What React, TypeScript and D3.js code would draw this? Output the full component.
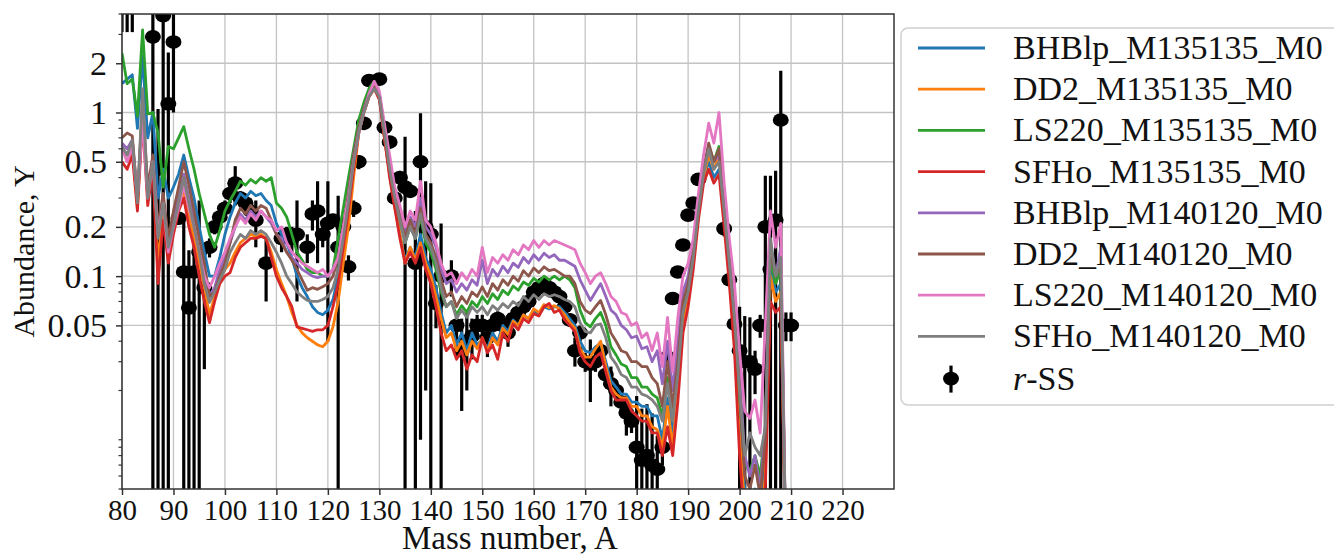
import React, { useEffect, useRef } from "react";
import * as d3 from "d3";

// mass numbers start at A = 80, one value per A
const massStart = 80;

const bhblp135 = [
  1.5, 1.6, 1.7, 0.8, 2.2, 0.7, 1.0, 0.3, 0.45, 0.3,
  0.35, 0.42, 0.55, 0.4, 0.3, 0.2, 0.14, 0.1, 0.1, 0.13,
  0.18, 0.23, 0.28, 0.32, 0.3, 0.33, 0.31, 0.32, 0.29, 0.27,
  0.21, 0.18, 0.16, 0.13, 0.1, 0.085, 0.075, 0.065, 0.06, 0.058,
  0.062, 0.072, 0.1, 0.18, 0.3, 0.5, 0.8, 1.05, 1.3, 1.45,
  1.25, 0.7, 0.42, 0.27, 0.18, 0.125, 0.15, 0.13, 0.18, 0.13,
  0.11, 0.085, 0.06, 0.045, 0.05, 0.038, 0.045, 0.035, 0.045, 0.038,
  0.041, 0.036, 0.045, 0.04, 0.05, 0.046, 0.054, 0.05, 0.058, 0.055,
  0.062, 0.058, 0.065, 0.063, 0.065, 0.065, 0.06, 0.055, 0.05, 0.04,
  0.035, 0.034, 0.037, 0.039, 0.03, 0.023, 0.021, 0.019, 0.019, 0.017,
  0.017, 0.016, 0.016, 0.014, 0.014, 0.01, 0.018, 0.011, 0.022, 0.055,
  0.075, 0.12, 0.24, 0.4, 0.5, 0.4, 0.45, 0.24, 0.11, 0.05,
  0.015, 0.005, 0.004, 0.005, 0.004, 0.008, 0.12, 0.08, 0.09, 0.002,
];
const dd2135 = [
  0.6, 0.55, 0.62, 0.26, 1.1, 0.3, 0.48, 0.12, 0.25, 0.13,
  0.19, 0.26, 0.34, 0.24, 0.17, 0.12, 0.085, 0.058, 0.075, 0.095,
  0.11, 0.12, 0.14, 0.16, 0.17, 0.18, 0.175, 0.18, 0.17, 0.14,
  0.11, 0.09, 0.075, 0.06, 0.05, 0.045, 0.042, 0.04, 0.038, 0.037,
  0.04, 0.049, 0.07, 0.12, 0.2, 0.4, 0.75, 1.0, 1.25, 1.4,
  1.25, 0.7, 0.42, 0.27, 0.18, 0.12, 0.15, 0.125, 0.16, 0.12,
  0.1, 0.075, 0.055, 0.042, 0.045, 0.035, 0.04, 0.033, 0.04, 0.036,
  0.042, 0.035, 0.042, 0.038, 0.048, 0.044, 0.053, 0.05, 0.058, 0.055,
  0.063, 0.06, 0.067, 0.064, 0.066, 0.063, 0.058, 0.052, 0.048, 0.036,
  0.032, 0.032, 0.036, 0.04, 0.028, 0.021, 0.019, 0.018, 0.018, 0.016,
  0.016, 0.014, 0.014, 0.012, 0.0115, 0.009, 0.016, 0.009, 0.02, 0.05,
  0.07, 0.12, 0.24, 0.4, 0.55, 0.45, 0.55, 0.24, 0.1, 0.04,
  0.01, 0.004, 0.003, 0.004, 0.003, 0.006, 0.1, 0.07, 0.08, 0.002,
];
const ls220135 = [
  2.3, 1.5, 1.6, 0.95, 3.2, 0.98, 1.0, 0.75, 0.35, 0.62,
  0.6, 0.7, 0.82, 0.6, 0.45, 0.32, 0.24, 0.18, 0.15, 0.19,
  0.25, 0.29, 0.33, 0.38, 0.36, 0.39, 0.37, 0.4, 0.38, 0.4,
  0.28, 0.26, 0.23, 0.18, 0.14, 0.125, 0.11, 0.105, 0.105, 0.1,
  0.1, 0.11, 0.17, 0.26, 0.4, 0.6, 0.9, 1.15, 1.4, 1.55,
  1.3, 0.75, 0.45, 0.3, 0.22, 0.16, 0.2, 0.17, 0.23, 0.16,
  0.14, 0.11, 0.08, 0.065, 0.07, 0.058, 0.066, 0.06, 0.07, 0.065,
  0.075, 0.068, 0.078, 0.072, 0.082, 0.077, 0.087, 0.082, 0.092, 0.088,
  0.097, 0.092, 0.1, 0.095, 0.1, 0.095, 0.1, 0.095, 0.085, 0.062,
  0.052, 0.049, 0.055, 0.06, 0.05, 0.037, 0.033, 0.029, 0.028, 0.024,
  0.024, 0.021, 0.021, 0.019, 0.018, 0.014, 0.024, 0.014, 0.028, 0.065,
  0.085, 0.14, 0.27, 0.45, 0.62, 0.5, 0.62, 0.28, 0.12, 0.055,
  0.018, 0.007, 0.0065, 0.008, 0.006, 0.012, 0.13, 0.09, 0.11, 0.002,
];
const sfho135 = [
  0.5, 0.45, 0.55, 0.25, 0.9, 0.27, 0.45, 0.09, 0.22, 0.12,
  0.18, 0.25, 0.3, 0.2, 0.15, 0.1, 0.07, 0.052, 0.07, 0.09,
  0.1, 0.105, 0.13, 0.15, 0.16, 0.17, 0.17, 0.175, 0.17, 0.13,
  0.1, 0.085, 0.075, 0.065, 0.049, 0.048, 0.047, 0.046, 0.047, 0.047,
  0.05, 0.065, 0.09, 0.15, 0.25, 0.45, 0.75, 1.0, 1.25, 1.4,
  1.2, 0.7, 0.4, 0.26, 0.17, 0.12, 0.14, 0.12, 0.15, 0.11,
  0.09, 0.065, 0.045, 0.035, 0.038, 0.031, 0.035, 0.027, 0.033, 0.03,
  0.042, 0.034, 0.038, 0.031, 0.045, 0.04, 0.051, 0.047, 0.055, 0.052,
  0.059, 0.057, 0.065, 0.068, 0.06, 0.062, 0.054, 0.05, 0.046, 0.034,
  0.03, 0.028, 0.032, 0.034, 0.026, 0.02, 0.0175, 0.0175, 0.0175, 0.015,
  0.014, 0.013, 0.013, 0.011, 0.011, 0.008, 0.012, 0.008, 0.017, 0.045,
  0.065, 0.11, 0.22, 0.37, 0.45, 0.37, 0.42, 0.2, 0.09, 0.035,
  0.008, 0.003, 0.0025, 0.003, 0.0025, 0.005, 0.07, 0.06, 0.065, 0.002,
];
const bhblp140 = [
  0.65, 0.6, 0.68, 0.3, 1.0, 0.32, 0.52, 0.19, 0.3, 0.15,
  0.22, 0.3, 0.42, 0.3, 0.22, 0.15, 0.11, 0.075, 0.085, 0.11,
  0.13, 0.16, 0.2, 0.24, 0.22, 0.25, 0.23, 0.25, 0.23, 0.21,
  0.18, 0.17, 0.14, 0.13, 0.12, 0.11, 0.105, 0.1, 0.098, 0.1,
  0.1, 0.11, 0.13, 0.2, 0.32, 0.55, 0.8, 1.05, 1.3, 1.5,
  1.3, 0.8, 0.5, 0.33, 0.25, 0.18, 0.23, 0.2, 0.3, 0.2,
  0.18, 0.15, 0.11, 0.09, 0.095, 0.08, 0.09, 0.082, 0.095, 0.088,
  0.125, 0.09, 0.11, 0.1, 0.115, 0.105, 0.12, 0.113, 0.13, 0.12,
  0.135, 0.125, 0.138, 0.13, 0.135, 0.125, 0.125, 0.12, 0.115, 0.095,
  0.082, 0.071, 0.08, 0.09, 0.075, 0.062, 0.058, 0.05, 0.047, 0.042,
  0.043, 0.036, 0.037, 0.03, 0.035, 0.022, 0.04, 0.02, 0.04, 0.08,
  0.1, 0.15, 0.28, 0.45, 0.6, 0.5, 0.55, 0.3, 0.14, 0.07,
  0.025, 0.008, 0.006, 0.008, 0.005, 0.012, 0.16, 0.1, 0.15, 0.002,
];
const dd2140 = [
  0.7, 0.75, 0.72, 0.3, 1.2, 0.35, 0.55, 0.2, 0.32, 0.17,
  0.25, 0.35, 0.5, 0.36, 0.25, 0.17, 0.12, 0.075, 0.08, 0.1,
  0.12, 0.16, 0.22, 0.26, 0.24, 0.27, 0.25, 0.27, 0.26, 0.22,
  0.18, 0.16, 0.14, 0.125, 0.11, 0.095, 0.082, 0.085, 0.083, 0.086,
  0.09, 0.1, 0.13, 0.2, 0.32, 0.55, 0.8, 1.05, 1.3, 1.45,
  1.3, 0.8, 0.5, 0.33, 0.24, 0.17, 0.22, 0.18, 0.26, 0.18,
  0.16, 0.13, 0.095, 0.075, 0.08, 0.065, 0.075, 0.068, 0.08, 0.075,
  0.086, 0.075, 0.09, 0.082, 0.095, 0.088, 0.1, 0.093, 0.108, 0.1,
  0.112, 0.105, 0.114, 0.108, 0.11, 0.105, 0.1, 0.1, 0.09, 0.07,
  0.062, 0.059, 0.065, 0.071, 0.058, 0.045, 0.04, 0.035, 0.034, 0.03,
  0.03, 0.028, 0.028, 0.024, 0.022, 0.016, 0.03, 0.016, 0.03, 0.07,
  0.09, 0.14, 0.27, 0.45, 0.65, 0.5, 0.6, 0.28, 0.13, 0.06,
  0.02, 0.006, 0.005, 0.007, 0.0045, 0.01, 0.15, 0.1, 0.12, 0.002,
];
const ls220140 = [
  0.6, 0.5, 0.62, 0.3, 0.9, 0.3, 0.5, 0.18, 0.28, 0.14,
  0.2, 0.26, 0.36, 0.26, 0.2, 0.14, 0.1, 0.085, 0.1, 0.12,
  0.14, 0.17, 0.2, 0.23, 0.21, 0.24, 0.22, 0.25, 0.23, 0.22,
  0.19, 0.2, 0.16, 0.14, 0.13, 0.12, 0.115, 0.11, 0.105, 0.11,
  0.1, 0.11, 0.13, 0.2, 0.3, 0.5, 0.75, 1.0, 1.3, 1.55,
  1.35, 0.85, 0.55, 0.35, 0.27, 0.2, 0.25, 0.22, 0.38, 0.22,
  0.2, 0.16, 0.12, 0.1, 0.105, 0.09, 0.105, 0.095, 0.11, 0.1,
  0.15, 0.105, 0.13, 0.12, 0.135, 0.125, 0.145, 0.135, 0.155, 0.145,
  0.165, 0.15, 0.165, 0.155, 0.165, 0.16, 0.155, 0.15, 0.145, 0.12,
  0.105, 0.09, 0.1, 0.105, 0.09, 0.075, 0.07, 0.06, 0.058, 0.05,
  0.052, 0.042, 0.045, 0.035, 0.045, 0.028, 0.056, 0.026, 0.056, 0.1,
  0.12, 0.17, 0.32, 0.55, 0.86, 0.65, 1.0, 0.37, 0.17, 0.09,
  0.035, 0.015, 0.0135, 0.0175, 0.011, 0.05, 0.25, 0.15, 0.21, 0.002,
];
const sfho140 = [
  0.62, 0.55, 0.68, 0.28, 1.4, 0.3, 0.5, 0.17, 0.28, 0.15,
  0.2, 0.28, 0.4, 0.28, 0.2, 0.14, 0.09, 0.069, 0.08, 0.095,
  0.11, 0.14, 0.16, 0.18, 0.17, 0.19, 0.18, 0.19, 0.18, 0.16,
  0.14, 0.12, 0.1, 0.09, 0.08, 0.075, 0.071, 0.07, 0.07, 0.072,
  0.075, 0.085, 0.11, 0.17, 0.28, 0.5, 0.75, 1.0, 1.25, 1.4,
  1.25, 0.75, 0.45, 0.3, 0.22, 0.16, 0.2, 0.17, 0.24, 0.17,
  0.15, 0.12, 0.085, 0.065, 0.07, 0.055, 0.062, 0.056, 0.065, 0.06,
  0.065, 0.058, 0.066, 0.062, 0.068, 0.064, 0.07, 0.066, 0.075, 0.07,
  0.077, 0.072, 0.078, 0.075, 0.077, 0.075, 0.072, 0.07, 0.065, 0.052,
  0.046, 0.045, 0.05, 0.051, 0.042, 0.032, 0.029, 0.025, 0.024, 0.021,
  0.021, 0.019, 0.0185, 0.0175, 0.016, 0.013, 0.022, 0.013, 0.025, 0.06,
  0.08, 0.13, 0.25, 0.42, 0.6, 0.45, 0.5, 0.25, 0.12, 0.055,
  0.02, 0.008, 0.011, 0.009, 0.008, 0.012, 0.17, 0.1, 0.13, 0.002,
];

const seriesNames = [
  "BHBlp_M135135_M0",
  "DD2_M135135_M0",
  "LS220_M135135_M0",
  "SFHo_M135135_M0",
  "BHBlp_M140120_M0",
  "DD2_M140120_M0",
  "LS220_M140120_M0",
  "SFHo_M140120_M0",
];
const seriesValues = [bhblp135, dd2135, ls220135, sfho135, bhblp140, dd2140, ls220140, sfho140];
const seriesColors = ["#1f77b4", "#ff7f0e", "#2ca02c", "#d62728", "#9467bd", "#8c564b", "#e377c2", "#7f7f7f"];

// solar r-process residuals
const rssA = [
  80, 81, 82, 86, 87, 88, 89, 90, 91, 92, 93, 94, 95, 96, 97, 98, 99,
  100, 101, 102, 103, 104, 105, 106, 108, 111, 112, 113, 114, 116, 117, 118, 119,
  120, 121, 122, 123, 124, 125, 126, 127, 128, 130, 131, 132, 133, 134, 135, 136,
  137, 138, 139, 140, 141, 142, 144, 145, 146, 147, 148, 149, 150, 151, 152, 153,
  154, 155, 156, 157, 158, 159, 160, 161, 162, 163, 164, 165, 166, 167, 168, 169,
  170, 171, 172, 173, 174, 175, 176, 177, 178, 179, 180, 181, 182, 183, 184, 185,
  186, 187, 188, 189, 190, 191, 192, 197, 198, 199, 200, 201, 202, 203, 204, 205,
  206, 207, 208, 209, 210,
];
const rssY = [
  6.0, 5.4, 5.0, 2.9, 0.45, 3.9, 1.13, 2.7, 0.226, 0.106, 0.064, 0.106, 0.14, 0.085, 0.15, 0.2, 0.23,
  0.26, 0.32, 0.37, 0.3, 0.28, 0.25, 0.22, 0.12, 0.17, 0.18, 0.17, 0.18, 0.15, 0.24, 0.25, 0.18,
  0.21, 0.22, 0.15, 0.2, 0.114, 0.26, 0.5, 0.86, 1.57, 1.6, 0.81, 0.66, 0.3, 0.4, 0.35, 0.33,
  0.12, 0.5, 0.2, 0.18, 0.068, 0.1, 0.1, 0.05, 0.035, 0.04, 0.043, 0.05, 0.05, 0.042, 0.05, 0.055,
  0.05, 0.045, 0.055, 0.06, 0.065, 0.07, 0.08, 0.085, 0.09, 0.085, 0.08, 0.075, 0.065, 0.054, 0.035, 0.045,
  0.03, 0.029, 0.03, 0.035, 0.025, 0.022, 0.02, 0.017, 0.0146, 0.013, 0.009, 0.0075, 0.008, 0.007, 0.0066, 0.009,
  0.032, 0.073, 0.106, 0.155, 0.236, 0.28, 0.39, 0.195, 0.095, 0.051, 0.035, 0.03, 0.03, 0.027, 0.05, 0.2,
  0.11, 0.22, 0.9, 0.05, 0.05,
];
const rssErr = [
  2.9, 2.3, 1.9, 3.0, 0.6, 4.0, 1.2, 1.7, 0.02, 0.11, 0.08, 0.11, 0.15, 0.058, 0.02, 0.02, 0.03,
  0.03, 0.04, 0.1, 0.03, 0.03, 0.03, 0.07, 0.05, 0.03, 0.02, 0.03, 0.11, 0.03, 0.05, 0.13, 0.03,
  0.17, 0.02, 0.16, 0.03, 0.02, 0.03, 0.05, 0.08, 0.1, 0.1, 0.08, 0.06, 0.03, 0.04, 0.36, 0.03,
  0.13, 0.49, 0.18, 0.19, 0.02, 0.11, 0.025, 0.01, 0.02, 0.02, 0.012, 0.008, 0.008, 0.01, 0.006, 0.006,
  0.006, 0.008, 0.005, 0.005, 0.006, 0.006, 0.006, 0.007, 0.007, 0.007, 0.006, 0.006, 0.006, 0.005, 0.007, 0.005,
  0.004, 0.012, 0.004, 0.004, 0.004, 0.006, 0.003, 0.003, 0.004, 0.002, 0.0095, 0.008, 0.0085, 0.0075, 0.004, 0.002,
  0.004, 0.006, 0.008, 0.01, 0.015, 0.02, 0.03, 0.02, 0.008, 0.01, 0.03, 0.027, 0.026, 0.008, 0.008, 0.21,
  0.3, 0.22, 0.9, 0.01, 0.01,
];

const xTicks = [80, 90, 100, 110, 120, 130, 140, 150, 160, 170, 180, 190, 200, 210, 220];
const yTicks = [0.05, 0.1, 0.2, 0.5, 1, 2];
const yTickLabels = ["0.05", "0.1", "0.2", "0.5", "1", "2"];

const App = () => {
  const svgRef = useRef<SVGSVGElement>(null);

  useEffect(() => {
    const svg = d3.select(svgRef.current);
    svg.selectAll("*").remove();

    const left = 122, right = 894, top = 14, bottom = 489;
    const font = "'Liberation Serif', 'Times New Roman', serif";

    const xScale = d3.scaleLinear().domain([80, 230]).range([left, right]);
    const yScale = d3.scaleLog().domain([0.005, 4]).range([bottom, top]);

    svg.append("defs").append("clipPath").attr("id", "plotclip")
      .append("rect").attr("x", left).attr("y", top)
      .attr("width", right - left).attr("height", bottom - top);

    // grid
    const grid = svg.append("g").attr("stroke", "#c4c4c4").attr("stroke-width", 1.3);
    grid.selectAll(".vg").data(xTicks).join("line")
      .attr("x1", (d) => xScale(d)).attr("x2", (d) => xScale(d))
      .attr("y1", top).attr("y2", bottom);
    grid.selectAll(".hg").data(yTicks).join("line")
      .attr("x1", left).attr("x2", right)
      .attr("y1", (d) => yScale(d)).attr("y2", (d) => yScale(d));

    const plot = svg.append("g").attr("clip-path", "url(#plotclip)");

    // r-SS error bars and points
    const rss = rssA.map((a, i) => ({ a, y: rssY[i], e: rssErr[i] }));
    plot.selectAll(".eb").data(rss).join("line")
      .attr("x1", (d) => xScale(d.a)).attr("x2", (d) => xScale(d.a))
      .attr("y1", (d) => (d.y - d.e > 0 ? yScale(d.y - d.e) : bottom + 20))
      .attr("y2", (d) => yScale(d.y + d.e))
      .attr("stroke", "#000").attr("stroke-width", 3.2);
    plot.selectAll(".pt").data(rss).join("ellipse")
      .attr("cx", (d) => xScale(d.a)).attr("cy", (d) => yScale(d.y))
      .attr("rx", 8).attr("ry", 6.8).attr("fill", "#000");

    // model lines
    const line = d3.line<number>()
      .x((_, i) => xScale(massStart + i))
      .y((v) => yScale(v));
    seriesValues.forEach((vals, k) => {
      plot.append("path").datum(vals)
        .attr("d", line)
        .attr("fill", "none")
        .attr("stroke", seriesColors[k])
        .attr("stroke-width", 2.8)
        .attr("stroke-linejoin", "round");
    });

    // frame
    svg.append("rect").attr("x", left).attr("y", top)
      .attr("width", right - left).attr("height", bottom - top)
      .attr("fill", "none").attr("stroke", "#333").attr("stroke-width", 1.5);

    // axes
    const xAxis = d3.axisBottom(xScale).tickValues(xTicks).tickSize(6).tickPadding(4).tickSizeOuter(0)
      .tickFormat((d) => String(d));
    const gx = svg.append("g").attr("transform", `translate(0,${bottom})`).call(xAxis)
      .attr("font-family", font).attr("font-size", 29);
    gx.select(".domain").remove();
    gx.selectAll("line").attr("stroke", "#333").attr("stroke-width", 1.5);
    gx.selectAll("text").attr("fill", "#111");

    const yAxis = d3.axisLeft(yScale).tickValues(yTicks).tickSize(6).tickPadding(9).tickSizeOuter(0)
      .tickFormat((d, i) => yTickLabels[i]);
    const gy = svg.append("g").attr("transform", `translate(${left},0)`).call(yAxis)
      .attr("font-family", font).attr("font-size", 34);
    gy.select(".domain").remove();
    gy.selectAll("line").attr("stroke", "#333").attr("stroke-width", 1.5);
    gy.selectAll("text").attr("fill", "#111");

    // minor log ticks
    const minor: number[] = [];
    [-3, -2, -1, 0].forEach((e) => {
      for (let k = 1; k <= 9; k++) {
        const v = k * Math.pow(10, e);
        if (v >= 0.005 && v <= 4 && !yTicks.some((t) => Math.abs(t - v) < 1e-9)) minor.push(v);
      }
    });
    svg.append("g").selectAll("line").data(minor).join("line")
      .attr("x1", left - 3.5).attr("x2", left)
      .attr("y1", (d) => yScale(d)).attr("y2", (d) => yScale(d))
      .attr("stroke", "#333").attr("stroke-width", 1.2);

    // axis labels
    svg.append("text").attr("x", (left + right) / 2 + 2).attr("y", 549)
      .attr("text-anchor", "middle").attr("fill", "#111")
      .style("font", `33px ${font}`).text("Mass number, A");
    svg.append("text").attr("transform", `translate(34,${(top + bottom) / 2}) rotate(-90)`)
      .attr("text-anchor", "middle").attr("fill", "#111")
      .style("font", `30px ${font}`).text("Abundance, Y");

    // legend
    const lg = svg.append("g");
    lg.append("rect").attr("x", 901).attr("y", 28).attr("width", 470).attr("height", 377)
      .attr("rx", 7).attr("fill", "#fff").attr("fill-opacity", 0.8)
      .attr("stroke", "#cfcfcf").attr("stroke-width", 1.5);
    const rowY = (i: number) => 48 + i * 41.2;
    seriesNames.forEach((name, i) => {
      lg.append("line").attr("x1", 918).attr("x2", 985)
        .attr("y1", rowY(i)).attr("y2", rowY(i))
        .attr("stroke", seriesColors[i]).attr("stroke-width", 2.8);
      lg.append("text").attr("x", 1013).attr("y", rowY(i) + 11)
        .attr("fill", "#111").style("font", `34px ${font}`).text(name);
    });
    const ry = rowY(8) + 1;
    lg.append("line").attr("x1", 951).attr("x2", 951).attr("y1", ry - 13).attr("y2", ry + 14)
      .attr("stroke", "#000").attr("stroke-width", 3.2);
    lg.append("ellipse").attr("cx", 951).attr("cy", ry).attr("rx", 8).attr("ry", 6.8).attr("fill", "#000");
    const rt = lg.append("text").attr("x", 1013).attr("y", ry + 11)
      .attr("fill", "#111").style("font", `34px ${font}`);
    rt.append("tspan").style("font-style", "italic").text("r");
    rt.append("tspan").text("-SS");
  }, []);

  return (
    <div style={{ position: "absolute", left: 0, top: 0 }}>
      <svg ref={svgRef} width={1334} height={555} />
    </div>
  );
};

export default App;
